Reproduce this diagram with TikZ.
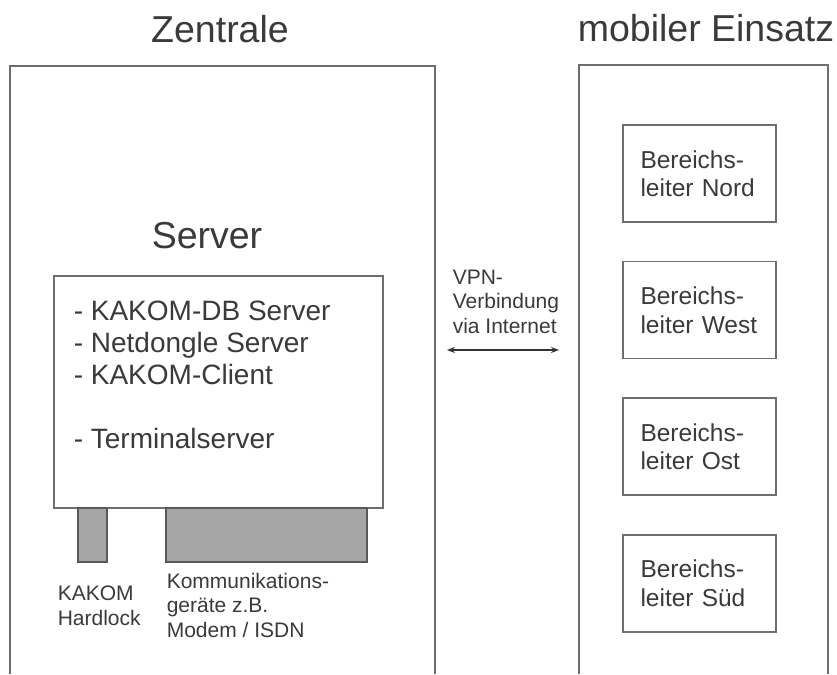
\documentclass[tikz,border=0pt]{standalone}
\usepackage{fontspec}
\setmainfont{Liberation Sans}
\usetikzlibrary{positioning,arrows.meta}
\definecolor{framegray}{HTML}{6E6E6E}
\definecolor{inkgray}{HTML}{3A3A3A}
\definecolor{devicegray}{HTML}{A6A6A6}

\begin{document}
\begin{tikzpicture}
            [x=1pt, y=-1pt, line width=1.6pt, draw=framegray, text=inkgray,
             titel/.style={anchor=base, font=\fontsize{37.5}{40}\selectfont},
             kasten/.style={draw=framegray, rectangle, inner sep=0pt},
             geraet/.style={kasten, fill=devicegray, draw=black!65},
             klein/.style={anchor=base west, align=left, inner sep=0pt,
                           font=\fontsize{21}{24.5}\selectfont},
             leiter/.style={kasten, minimum width=153pt, minimum height=97pt,
                            align=left, text width=118pt,
                            font=\fontsize{24.5}{28.5}\selectfont}]
            \useasboundingbox (0, 0) rectangle (837, 674);
            % Rahmen
            \draw (10, 674) -- (10, 66) -- (435, 66) -- (435, 674);
            \draw (579, 674) -- (579, 65) -- (828, 65) -- (828, 674);
            \node [titel] (zentrale) at (220, 43) {Zentrale};
            \node [titel] (mobil) at (706, 42) {mobiler Einsatz};
            % Server
            \node [titel] (servertitel) at (207, 248) {Server};
            \node [kasten, minimum width=329pt, minimum height=232pt] (server) at (218.5, 392) {};
            % Mehrzeiliger Text: base = letzte Zeile
            \node [anchor=base west, align=left, inner sep=0pt,
                   font=\fontsize{28}{32}\selectfont] (dienste) at (73, 448)
                  {- KAKOM-DB Server\\- Netdongle Server\\- KAKOM-Client\\[32pt]- Terminalserver};
            \node [geraet, minimum width=29pt, minimum height=54pt] (hardlock) at (92.5, 535) {};
            \node [geraet, minimum width=201pt, minimum height=54pt] (komm) at (266.5, 535) {};
            \node [klein] (hardlocktext) at (57, 625) {KAKOM\\Hardlock};
            \node [klein] (kommtext) at (166, 637) {Kommunikations-\\geräte z.B.\\Modem / ISDN};
            % VPN
            \node [klein] (vpn) at (452, 333) {VPN-\\Verbindung\\via Internet};
            \coordinate (vpnlinks) at (447, 350);
            \coordinate (vpnrechts) at (559, 350);
            \draw [{Stealth[length=8pt,width=6pt]}-{Stealth[length=8pt,width=6pt]},
                   line width=1.2pt, draw=black!80] (vpnlinks) -- (vpnrechts);
            % Bereichsleiter
            \node [leiter] (bl1) at (699.5, 173.5) {Bereichs-\\leiter Nord};
            \node [leiter, below=38pt of bl1] (bl2) {Bereichs-\\leiter West};
            \node [leiter, below=38pt of bl2] (bl3) {Bereichs-\\leiter Ost};
            \node [leiter, below=38pt of bl3] (bl4) {Bereichs-\\leiter Süd};
        \end{tikzpicture}
\end{document}
